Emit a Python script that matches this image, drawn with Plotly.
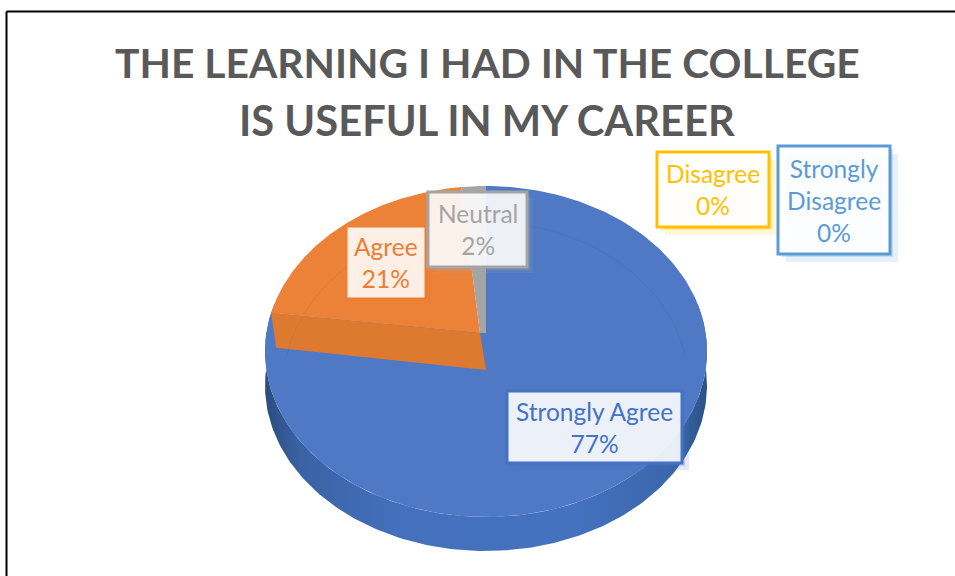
import numpy as np
import plotly.graph_objects as go

# Data
categories = ["Strongly Agree", "Agree", "Neutral", "Disagree", "Strongly Disagree"]
label_names = ["Strongly Agree", "Agree", "Neutral", "Disagree", "Strongly<br>Disagree"]
percent = [77, 21, 2, 0, 0]
title_lines = ["THE LEARNING I HAD IN THE COLLEGE", "IS USEFUL IN MY CAREER"]

colors = ["#4F79C4", "#EC8237", "#A5A5A5", "#FFC000", "#5B9BD5"]
text_colors = ["#4472C4", "#ED7D31", "#A5A5A5", "#FFC000", "#5B9BD5"]

# pie geometry on the pixel-sized axes
CX, CY = 486, 333
RX, RY, PERSP = 219.6, 163.4, 0.112
DEPTH = 34

# label boxes: x0, x1, y0, y1
boxes = [
    (507, 682, 391, 463),
    (347, 425, 227, 298),
    (428, 527, 192, 267),
    (657, 769, 152, 227),
    (778, 890, 146, 254),
]
box_fill = ["rgba(255,255,255,0.89)", "rgba(255,255,255,0.88)", "rgba(255,255,255,0.88)",
            "rgba(255,255,255,0.95)", "rgba(255,255,255,0.95)"]
shadow_off = [7, 6, 6, 8, 8]
title_y = [62, 120]
title_size = [40.8, 41.7]


def rim(frac0, frac1, n=200):
    # points on the pie rim, fraction of the circle clockwise from 12 o'clock
    t = np.linspace(frac0, frac1, n) * 2 * np.pi
    u, v = np.sin(t), np.cos(t)
    w = 1 + PERSP * v
    return CX + RX * u / w, CY - RY * v / w


fig = go.Figure()

# side wall of the pie
sx1, sy1 = rim(0.22, 0.78)
fig.add_trace(go.Scatter(
    x=np.concatenate([sx1, sx1[::-1]]),
    y=np.concatenate([sy1 + DEPTH, sy1[::-1]]),
    mode="lines", line=dict(width=0), fill="toself",
    fillgradient=dict(type="horizontal", colorscale=[
        [0, "#2B4C80"], [0.08, "#3A62A5"], [0.3, "#4470BC"], [0.7, "#4572BE"],
        [0.92, "#3A66AC"], [1, "#2B5288"]]),
    hoverinfo="skip", showlegend=False))

# top faces, one sector for each non empty category
ends = np.cumsum(percent) / 100
starts = np.concatenate([[0], ends[:-1]])
apex_x = [CX, 480, 480, CX, CX]
for i, name in enumerate(categories):
    if percent[i] == 0:
        continue
    rx, ry = rim(starts[i], ends[i])
    fig.add_trace(go.Scatter(
        x=np.concatenate([[apex_x[i]], rx, [apex_x[i]]]),
        y=np.concatenate([[CY], ry, [CY]]),
        mode="lines", line=dict(width=0, color=colors[i]), fill="toself",
        fillcolor=colors[i], name=name, showlegend=False))

# gray strip next to the blue cut
gx, gy = rim(ends[1] + 0.012, 1.0, 20)
fig.add_trace(go.Scatter(
    x=np.concatenate([gx, [CX, CX, 480]]), y=np.concatenate([gy, [322, CY, CY]]),
    mode="lines", line=dict(width=0), fill="toself", fillcolor=colors[2],
    hoverinfo="skip", showlegend=False))

# cut wall of the orange slice
lx, ly = rim(ends[0], ends[0], 1)
fig.add_trace(go.Scatter(
    x=[lx[0], 480, CX, lx[0] + 5, lx[0]],
    y=[ly[0], CY, CY + 37, ly[0] + 35, ly[0]],
    mode="lines", line=dict(width=0), fill="toself", fillcolor="#DE7A30",
    hoverinfo="skip", showlegend=False))

# faint edge of the base seen through the top face
fx, fy = rim(0.76, 1.24)
fig.add_trace(go.Scatter(
    x=CX + (fx - CX) * 0.92, y=fy + 36, mode="lines",
    line=dict(width=1, color="rgba(70,70,70,0.10)"),
    hoverinfo="skip", showlegend=False))

shapes = []
for i, (x0, x1, y0, y1) in enumerate(boxes):
    off = shadow_off[i]
    shapes.append(dict(type="rect", xref="x", yref="y", x0=x0 + off, x1=x1 + off, y0=y0 + off, y1=y1 + off,
                       line=dict(width=0), fillcolor=text_colors[i], opacity=0.15))
    shapes.append(dict(type="rect", xref="x", yref="y", x0=x0 + 3, x1=x1 + 3, y0=y0 + 3, y1=y1 + 3,
                       line=dict(width=0), fillcolor=text_colors[i], opacity=0.25))
    shapes.append(dict(type="rect", xref="x", yref="y", x0=x0, x1=x1, y0=y0, y1=y1,
                       line=dict(width=3 if i != 1 else 1, color=text_colors[i]), fillcolor=box_fill[i]))

# black frame of the page
shapes.append(dict(type="line", xref="x", yref="y", x0=6.5, x1=955, y0=11.5, y1=11.5, line=dict(color="black", width=2)))
shapes.append(dict(type="line", xref="x", yref="y", x0=6.5, x1=6.5, y0=11.5, y1=576, line=dict(color="black", width=2)))

annotations = []
for i, name in enumerate(label_names):
    x0, x1, y0, y1 = boxes[i]
    annotations.append(dict(
        x=(x0 + x1) / 2, y=(y0 + y1) / 2, xref="x", yref="y", showarrow=False,
        text=f"{name}<br>{percent[i]}%", align="center",
        font=dict(family="Lato", size=24.5, color=text_colors[i])))
for line, y, size in zip(title_lines, title_y, title_size):
    annotations.append(dict(
        x=487, y=y, xref="x", yref="y", showarrow=False, text=f"<b>{line}</b>",
        font=dict(family="Lato", size=size, color="#595959")))

fig.update_layout(
    width=955, height=576,
    margin=dict(l=0, r=0, t=0, b=0),
    paper_bgcolor="white", plot_bgcolor="white",
    showlegend=False,
    shapes=shapes,
    annotations=annotations,
    xaxis=dict(range=[0, 955], visible=False, fixedrange=True),
    yaxis=dict(range=[576, 0], visible=False, fixedrange=True),
)

fig.write_html("out.html", config=dict(displayModeBar=False),
               post_script="document.body.style.margin='0';")
